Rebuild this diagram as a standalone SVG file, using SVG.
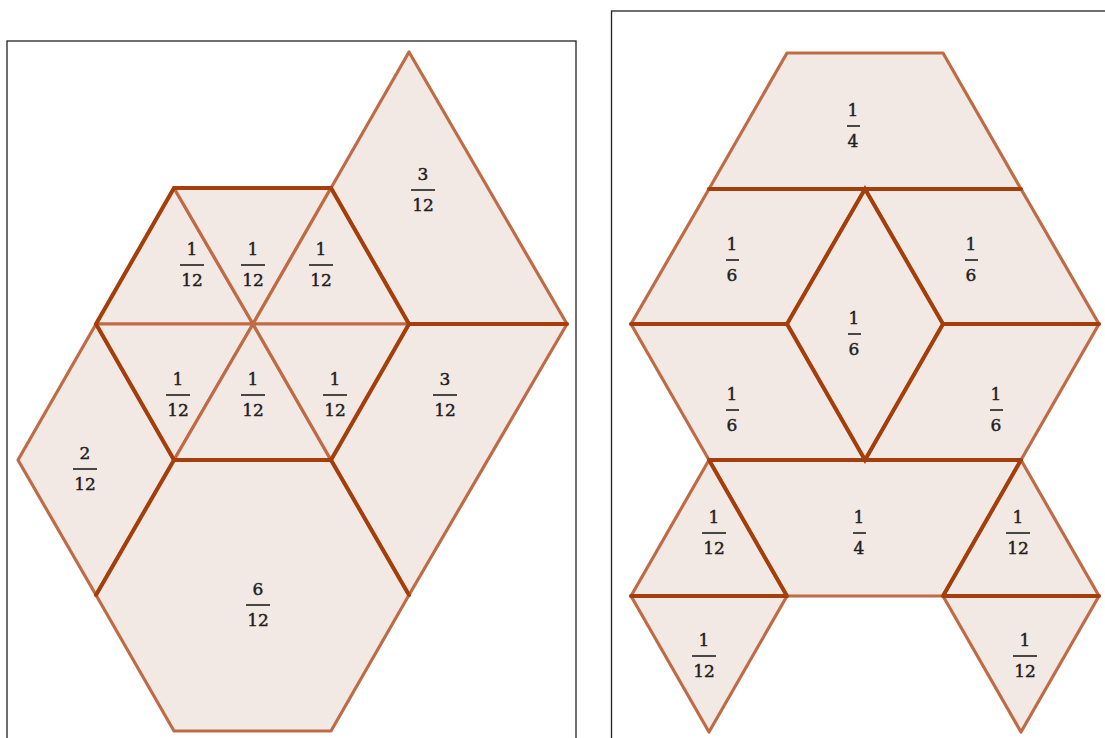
<svg xmlns="http://www.w3.org/2000/svg" width="1105" height="738" viewBox="0 0 1105 738">
<style>
.bg{fill:#ffffff}
.frame{fill:none;stroke:#222;stroke-width:1.3}
.p{fill:#f3e9e4;stroke:#bf6b45;stroke-width:3.2;stroke-linejoin:round}
.d{stroke:#a43f0b;stroke-width:4;stroke-linecap:round;fill:none}
.t{font-family:"DejaVu Serif","Liberation Serif",serif;font-size:17px;fill:#1e1e1e;stroke:#1e1e1e;stroke-width:0.45;text-anchor:middle}
.bar{stroke:#1e1e1e;stroke-width:1.6}
</style>
<rect class="bg" x="0" y="0" width="1105" height="738"/>
<rect class="frame" x="7" y="41" width="569" height="710"/>
<rect class="frame" x="611.5" y="11" width="500" height="740"/>

<!-- LEFT PANEL -->
<g id="L-top312"><polygon class="p" points="409,52 567,324 409,324 331,188"/></g>
<g id="L-right312"><polygon class="p" points="409,324 567,324 409,595 331,460"/></g>
<g id="L-left212"><polygon class="p" points="96,324 174,460 96,595 18,460"/></g>
<g id="L-hex612"><polygon class="p" points="174,460 331,460 409,595 331,731 174,731 96,595"/></g>
<g id="L-t1"><polygon class="p" points="174,188 253,324 96,324"/></g>
<g id="L-t2"><polygon class="p" points="174,188 331,188 253,324"/></g>
<g id="L-t3"><polygon class="p" points="331,188 409,324 253,324"/></g>
<g id="L-t4"><polygon class="p" points="96,324 253,324 174,460"/></g>
<g id="L-t5"><polygon class="p" points="253,324 331,460 174,460"/></g>
<g id="L-t6"><polygon class="p" points="253,324 409,324 331,460"/></g>

<!-- RIGHT PANEL -->
<g id="R-top14"><polygon class="p" points="787,53 943,53 1021,189 709,189"/></g>
<g id="R-ul16"><polygon class="p" points="709,189 865,189 787,324 631,324"/></g>
<g id="R-ur16"><polygon class="p" points="865,189 1021,189 1099,324 943,324"/></g>
<g id="R-c16"><polygon class="p" points="865,189 943,324 865,460 787,324"/></g>
<g id="R-ll16"><polygon class="p" points="631,324 787,324 865,460 709,460"/></g>
<g id="R-lr16"><polygon class="p" points="943,324 1099,324 1021,460 865,460"/></g>
<g id="R-mid14"><polygon class="p" points="709,460 1021,460 943,596 787,596"/></g>
<g id="R-lt112"><polygon class="p" points="709,460 787,596 631,596"/></g>
<g id="R-rt112"><polygon class="p" points="1021,460 1099,596 943,596"/></g>
<g id="R-lb112"><polygon class="p" points="631,596 787,596 709,732"/></g>
<g id="R-rb112"><polygon class="p" points="943,596 1099,596 1021,732"/></g>

<!-- shared (dark) edges -->
<g id="connectors">
<path class="d" d="M174,188 L331,188 L409,324 L331,460 L174,460 L96,324 Z"/>
<path class="d" d="M409,324 L567,324 M174,460 L96,595 M331,460 L409,595"/>
<path class="d" d="M709,189 L1021,189 M865,189 L787,324 L865,460 L943,324 Z M631,324 L787,324 M943,324 L1099,324 M709,460 L1021,460 M709,460 L787,596 M1021,460 L943,596 M631,596 L787,596 M943,596 L1099,596"/>
</g>

<!-- labels -->
<g id="labels">
<g><text class="t" x="192" y="255">1</text><line class="bar" x1="180" y1="265" x2="204" y2="265"/><text class="t" x="192" y="286">12</text></g>
<g><text class="t" x="253" y="255">1</text><line class="bar" x1="241" y1="265" x2="265" y2="265"/><text class="t" x="253" y="286">12</text></g>
<g><text class="t" x="321" y="255">1</text><line class="bar" x1="309" y1="265" x2="333" y2="265"/><text class="t" x="321" y="286">12</text></g>
<g><text class="t" x="423" y="180">3</text><line class="bar" x1="411" y1="190" x2="435" y2="190"/><text class="t" x="423" y="211">12</text></g>
<g><text class="t" x="178" y="385">1</text><line class="bar" x1="166" y1="395" x2="190" y2="395"/><text class="t" x="178" y="416">12</text></g>
<g><text class="t" x="253" y="385">1</text><line class="bar" x1="241" y1="395" x2="265" y2="395"/><text class="t" x="253" y="416">12</text></g>
<g><text class="t" x="335" y="385">1</text><line class="bar" x1="323" y1="395" x2="347" y2="395"/><text class="t" x="335" y="416">12</text></g>
<g><text class="t" x="445" y="385">3</text><line class="bar" x1="433" y1="395" x2="457" y2="395"/><text class="t" x="445" y="416">12</text></g>
<g><text class="t" x="85" y="459">2</text><line class="bar" x1="73" y1="469" x2="97" y2="469"/><text class="t" x="85" y="490">12</text></g>
<g><text class="t" x="258" y="595">6</text><line class="bar" x1="246" y1="605" x2="270" y2="605"/><text class="t" x="258" y="626">12</text></g>

<g><text class="t" x="853" y="116">1</text><line class="bar" x1="847" y1="126" x2="860" y2="126"/><text class="t" x="853" y="147">4</text></g>
<g><text class="t" x="732" y="250">1</text><line class="bar" x1="726" y1="260" x2="739" y2="260"/><text class="t" x="732" y="281">6</text></g>
<g><text class="t" x="971" y="250">1</text><line class="bar" x1="965" y1="260" x2="978" y2="260"/><text class="t" x="971" y="281">6</text></g>
<g><text class="t" x="854" y="324">1</text><line class="bar" x1="848" y1="334" x2="861" y2="334"/><text class="t" x="854" y="355">6</text></g>
<g><text class="t" x="732" y="400">1</text><line class="bar" x1="726" y1="410" x2="739" y2="410"/><text class="t" x="732" y="431">6</text></g>
<g><text class="t" x="996" y="400">1</text><line class="bar" x1="990" y1="410" x2="1003" y2="410"/><text class="t" x="996" y="431">6</text></g>
<g><text class="t" x="859" y="523">1</text><line class="bar" x1="853" y1="533" x2="866" y2="533"/><text class="t" x="859" y="554">4</text></g>
<g><text class="t" x="714" y="523">1</text><line class="bar" x1="702" y1="533" x2="726" y2="533"/><text class="t" x="714" y="554">12</text></g>
<g><text class="t" x="1018" y="523">1</text><line class="bar" x1="1006" y1="533" x2="1030" y2="533"/><text class="t" x="1018" y="554">12</text></g>
<g><text class="t" x="704" y="646">1</text><line class="bar" x1="692" y1="656" x2="716" y2="656"/><text class="t" x="704" y="677">12</text></g>
<g><text class="t" x="1025" y="646">1</text><line class="bar" x1="1013" y1="656" x2="1037" y2="656"/><text class="t" x="1025" y="677">12</text></g>
</g>
</svg>
